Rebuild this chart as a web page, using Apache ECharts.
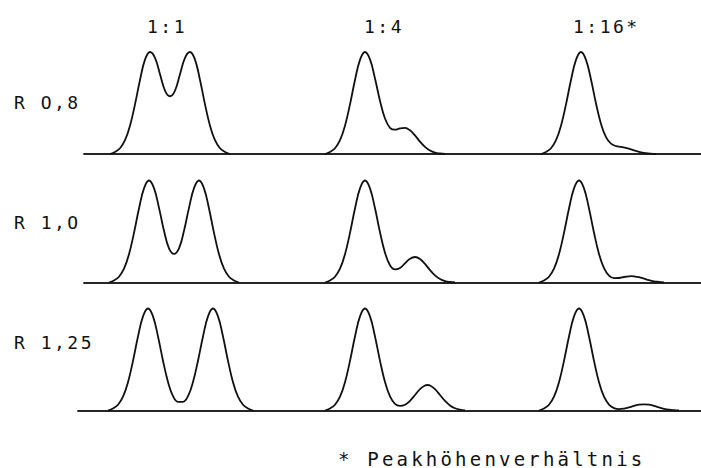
<!DOCTYPE html>
<html>
<head>
<meta charset="utf-8">
<script src="https://cdn.jsdelivr.net/npm/echarts@6/dist/echarts.min.js"></script>
<style>
  html, body { margin: 0; padding: 0; background: #fff; }
  #chart { width: 701px; height: 468px; }
  #chart text { letter-spacing: 2.5px; }
  #chart text.wide { letter-spacing: 3.2px; }
</style>
</head>
<body>
<div id="chart"></div>
<script>
// column headers (peak height ratio), row labels (resolution)
const colTitles = ['1:1', '1:4', '1:16*'];
const rowLabels = ['R O,8', 'R 1,O', 'R 1,25'];
const footNote = '* Peakhöhenverhältnis';

// detector signal, relative to main peak height; t = retention time (arb. units)
// R 0,8
const tA1 = [2.9,3.4,3.9,4.4,4.9,5.4,5.9,6.4,6.9,7.4,7.9,8.4,8.9,9.4,9.9,10.4,10.9,11.4,11.9,12.4,12.9,13.4,13.9,14.4,14.9];
const hA1 = [0,0.02,0.056,0.135,0.278,0.487,0.726,0.925,1,0.943,0.782,0.622,0.566,0.622,0.782,0.943,1,0.925,0.726,0.487,0.278,0.135,0.056,0.02,0];
const tB1 = [24.4,24.9,25.4,25.9,26.4,26.9,27.4,27.9,28.4,28.9,29.4,29.9,30.4,30.9,31.4,31.9,32.4,32.9,33.4,33.9,34.4,34.9,35.4,35.9,36.4];
const hB1 = [0,0.02,0.056,0.135,0.278,0.487,0.726,0.923,1,0.928,0.74,0.521,0.348,0.257,0.238,0.251,0.256,0.232,0.182,0.122,0.07,0.034,0.014,0.005,0];
const tC1 = [46,46.5,47,47.5,48,48.5,49,49.5,50,50.5,51,51.5,52,52.5,53,53.5,54,54.5,55,55.5,56,56.5,57,57.5];
const hC1 = [0,0.02,0.056,0.135,0.278,0.487,0.726,0.923,1,0.923,0.73,0.495,0.295,0.165,0.101,0.078,0.069,0.059,0.045,0.03,0.017,0.008,0.003,0];
// R 1,0
const tA2 = [2.8,3.3,3.8,4.3,4.8,5.3,5.8,6.3,6.8,7.3,7.8,8.3,8.8,9.3,9.8,10.3,10.8,11.3,11.8,12.3,12.8,13.3,13.8,14.3,14.8,15.3,15.8];
const hA2 = [0,0.02,0.056,0.135,0.278,0.487,0.726,0.923,1,0.925,0.732,0.507,0.334,0.28,0.334,0.507,0.732,0.925,1,0.923,0.726,0.487,0.278,0.135,0.056,0.02,0];
const tB2 = [24.4,24.9,25.4,25.9,26.4,26.9,27.4,27.9,28.4,28.9,29.4,29.9,30.4,30.9,31.4,31.9,32.4,32.9,33.4,33.9,34.4,34.9,35.4,35.9,36.4,36.9,37.4];
const hB2 = [0,0.02,0.056,0.135,0.278,0.487,0.726,0.923,1,0.923,0.728,0.492,0.292,0.169,0.128,0.142,0.188,0.232,0.25,0.231,0.182,0.122,0.07,0.034,0.014,0.005,0];
const tC2 = [45.8,46.3,46.8,47.3,47.8,48.3,48.8,49.3,49.8,50.3,50.8,51.3,51.8,52.3,52.8,53.3,53.8,54.3,54.8,55.05,55.3,55.8,56.3,56.8,57.3,57.8,58.3];
const hC2 = [0,0.02,0.056,0.135,0.278,0.487,0.726,0.923,1,0.923,0.726,0.488,0.28,0.141,0.068,0.043,0.044,0.054,0.061,0.0625,0.061,0.052,0.038,0.023,0.012,0.006,0];
// R 1,25
const tA3 = [2.7,3.2,3.7,4.2,4.7,5.2,5.7,6.2,6.7,7.2,7.7,8.2,8.7,9.2,9.7,10.2,10.7,11.2,11.7,12.2,12.7,13.2,13.7,14.2,14.7,15.2,15.7,16.2,16.7,17.2];
const hA3 = [0,0.02,0.056,0.135,0.278,0.487,0.726,0.923,1,0.923,0.726,0.488,0.28,0.141,0.085,0.085,0.141,0.28,0.488,0.726,0.923,1,0.923,0.726,0.487,0.278,0.135,0.056,0.02,0];
const tB3 = [24.4,24.9,25.4,25.9,26.4,26.9,27.4,27.9,28.4,28.9,29.4,29.9,30.4,30.9,31.4,31.9,32.4,32.9,33.4,33.9,34.4,34.65,34.9,35.4,35.9,36.4,36.9,37.4,37.9,38.4];
const hB3 = [0,0.02,0.056,0.135,0.278,0.487,0.726,0.923,1,0.923,0.726,0.487,0.279,0.138,0.065,0.045,0.056,0.095,0.152,0.209,0.245,0.25,0.245,0.209,0.152,0.094,0.05,0.022,0.009,0];
const tC3 = [45.8,46.3,46.8,47.3,47.8,48.3,48.8,49.3,49.8,50.3,50.8,51.3,51.8,52.3,52.8,53.3,53.8,54.3,54.8,55.3,55.8,56.3,56.8,57.3,57.8,58.3,58.8,59.3,59.8];
const hC3 = [0,0.02,0.056,0.135,0.278,0.487,0.726,0.923,1,0.923,0.726,0.487,0.278,0.135,0.057,0.024,0.014,0.019,0.03,0.045,0.058,0.06,0.058,0.045,0.03,0.017,0.008,0.003,0];

const traces = [
  [0, tA1, hA1], [0, tB1, hB1], [0, tC1, hC1],
  [1, tA2, hA2], [1, tB2, hB2], [1, tC2, hC2],
  [2, tA3, hA3], [2, tB3, hB3], [2, tC3, hC3]
];

const ink = '#111';
const font = '"DejaVu Sans Mono", monospace';

// one strip per resolution
const grids = [
  { left: 84, right: 0, top: 52, height: 102 },
  { left: 84, right: 0, top: 180.5, height: 102 },
  { left: 78, right: 0, top: 308.5, height: 102 }
];
const xMin = [0.3, 0.3, -0.3];

const myChart = echarts.init(document.getElementById('chart'), null, { renderer: 'svg' });

const option = {
  animation: false,
  backgroundColor: '#fff',
  grid: grids,
  xAxis: grids.map((g, i) => ({
    gridIndex: i,
    type: 'value',
    min: xMin[i],
    max: 62,
    axisLine: { show: true, onZero: false, lineStyle: { color: '#262626', width: 1.8 } },
    axisTick: { show: false },
    axisLabel: { show: false },
    splitLine: { show: false }
  })),
  yAxis: grids.map((g, i) => ({
    gridIndex: i,
    type: 'value',
    min: 0,
    max: 1,
    show: false
  })),
  series: traces.map(([row, t, h]) => ({
    type: 'line',
    xAxisIndex: row,
    yAxisIndex: row,
    data: t.map((v, k) => [v, h[k]]),
    smooth: 0.4,
    symbol: 'none',
    clip: false,
    silent: true,
    lineStyle: { color: ink, width: 1.8 }
  })),
  graphic: [
    ...colTitles.map((s, i) => ({
      type: 'text',
      left: [147, 364, 573][i],
      top: 17,
      style: { text: s, font: '18px ' + font, fill: ink }
    })),
    ...rowLabels.map((s, i) => ({
      type: 'text',
      left: 14,
      top: [93, 213, 333][i],
      style: { text: s, font: '18px ' + font, fill: ink }
    })),
    {
      type: 'text',
      id: 'note',
      left: 338,
      top: 449,
      style: { text: footNote, font: '19px ' + font, fill: ink }
    }
  ]
};

myChart.setOption(option);

// footnote is typed with a slightly wider pitch
const texts = document.querySelectorAll('#chart text');
texts.forEach(el => { if (el.textContent === footNote) el.classList.add('wide'); });
</script>
</body>
</html>
